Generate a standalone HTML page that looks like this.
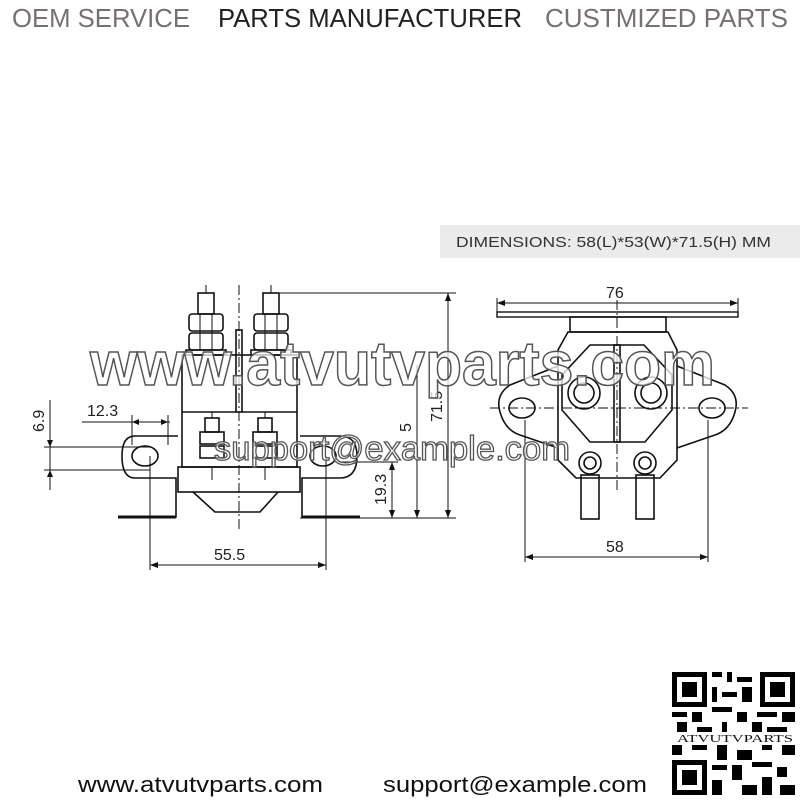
<!DOCTYPE html>
<html><head><meta charset="utf-8"><style>
html,body{margin:0;padding:0;background:#fff;}
svg{display:block;}
</style></head><body>
<svg width="800" height="800" viewBox="0 0 800 800" xmlns="http://www.w3.org/2000/svg" font-family="Liberation Sans, sans-serif">
<rect width="800" height="800" fill="#fff"/>
<!-- header -->
<text x="12" y="27" font-size="26" fill="#777070" textLength="178" lengthAdjust="spacingAndGlyphs">OEM SERVICE</text>
<text x="218" y="27" font-size="26" fill="#222" textLength="304" lengthAdjust="spacingAndGlyphs">PARTS MANUFACTURER</text>
<text x="545" y="27" font-size="26" fill="#777070" textLength="243" lengthAdjust="spacingAndGlyphs">CUSTMIZED PARTS</text>
<!-- dims box -->
<rect x="440" y="225" width="360" height="33" fill="#ebebeb"/>
<text x="456" y="247" font-size="15" fill="#333" textLength="315" lengthAdjust="spacingAndGlyphs">DIMENSIONS: 58(L)*53(W)*71.5(H) MM</text>

<g fill="none" stroke="#111" stroke-width="1.6">
<g id="stud">
<line x1="206" y1="285" x2="206" y2="293" stroke-width="1"/>
<rect x="198" y="293" width="16" height="21"/>
<rect x="189" y="314" width="34" height="17" rx="3"/>
<rect x="189" y="333" width="34" height="17" rx="3"/>
<rect x="186" y="350" width="40" height="5"/>
<line x1="200" y1="314" x2="200" y2="350" stroke-width="1"/>
<line x1="212" y1="314" x2="212" y2="350" stroke-width="1"/>
</g>
<use href="#stud" transform="translate(65,0)"/>
<rect x="236" y="330" width="6" height="82"/>
<rect x="182" y="355" width="115" height="112"/>
<line x1="182" y1="412" x2="236" y2="412"/>
<line x1="242" y1="412" x2="297" y2="412"/>
<g id="ss">
<line x1="212" y1="412" x2="212" y2="418" stroke-width="1"/>
<rect x="205" y="418" width="14" height="14"/>
<rect x="200" y="432" width="24" height="12"/>
<rect x="200" y="446" width="24" height="12"/>
<line x1="212" y1="467" x2="212" y2="480" stroke-width="1"/>
</g>
<use href="#ss" transform="translate(53,0)"/>
<rect x="178" y="467" width="122" height="25"/>
<path d="M193 492 L215 512 L260 512 L278 492"/>
<line x1="239" y1="285" x2="239" y2="530" stroke-width="1" stroke-dasharray="10,3,2,3"/>
<path d="M178 436 L135 436 Q122 436 122 456 Q122 478 135 478 L176 478 L176 517 L120 517"/>
<line x1="118" y1="517" x2="176" y2="517" stroke-width="3"/>
<ellipse cx="145" cy="456" rx="13" ry="10"/>
<path d="M300 436 L340 436 Q357 436 357 456 Q357 478 340 478 L302 478 L302 517 L358 517"/>
<line x1="302" y1="517" x2="360" y2="517" stroke-width="3"/>
<ellipse cx="323" cy="456" rx="13" ry="10"/>
</g>

<g stroke="#111" stroke-width="1" fill="none">
<line x1="280" y1="293" x2="456" y2="293"/>
<line x1="300" y1="518" x2="456" y2="518"/>
<line x1="448" y1="293" x2="448" y2="518"/>
<line x1="417" y1="365" x2="417" y2="518"/>
<line x1="392" y1="462" x2="392" y2="518"/>
<line x1="340" y1="462" x2="398" y2="462"/>
<line x1="50" y1="400" x2="50" y2="490"/>
<line x1="44" y1="447" x2="150" y2="447"/>
<line x1="44" y1="470" x2="150" y2="470"/>
<line x1="82" y1="422" x2="170" y2="422"/>
<line x1="132" y1="415" x2="132" y2="445"/>
<line x1="168" y1="415" x2="168" y2="445"/>
<line x1="150" y1="456" x2="150" y2="570"/>
<line x1="326" y1="456" x2="326" y2="570"/>
<line x1="150" y1="565" x2="326" y2="565"/>
</g>
<g fill="#111">
<path d="M448 293 l-3 8 h6z M448 518 l-3 -8 h6z M417 518 l-3 -8 h6z M392 462 l-3 8 h6z M392 518 l-3 -8 h6z M50 447 l-3 -7 h6z M50 470 l-3 7 h6z M132 422 l7 -3 v6z M168 422 l-7 -3 v6z M150 565 l8 -3 v6z M326 565 l-8 -3 v6z"/>
</g>
<g font-size="16" fill="#222">
<text x="87" y="416">12.3</text>
<text x="214" y="560">55.5</text>
<text transform="translate(44,432) rotate(-90)">6.9</text>
<text transform="translate(442,422) rotate(-90)">71.5</text>
<text transform="translate(411,432) rotate(-90)">5</text>
<text transform="translate(386,505) rotate(-90)">19.3</text>
<text x="606" y="298">76</text>
<text x="606" y="552">58</text>
</g>

<g fill="none" stroke="#111" stroke-width="1.6">
<rect x="497" y="312" width="241" height="5" stroke-width="1.4"/>
<rect x="570" y="317" width="96" height="15"/>
<path d="M568 332 L668 332 L677 350 L677 460 L660 478 L576 478 L558 460 L558 350 Z"/>
<path d="M558 366 L510 385 Q495 395 500 412 Q505 430 520 435 L558 448"/>
<path d="M677 366 L725 385 Q740 395 735 412 Q730 430 715 435 L677 448"/>
<ellipse cx="522" cy="408" rx="13" ry="10"/>
<ellipse cx="712" cy="408" rx="13" ry="10"/>
<path d="M590 345 L644 345 L672 375 L672 410 L645 442 L590 442 L562 410 L562 375 Z"/>
<rect x="614" y="345" width="6" height="97"/>
<circle cx="584" cy="393" r="16"/>
<circle cx="584" cy="393" r="10"/>
<circle cx="651" cy="393" r="16"/>
<circle cx="651" cy="393" r="10"/>
<circle cx="590" cy="463" r="11"/>
<circle cx="590" cy="463" r="6"/>
<circle cx="645" cy="463" r="11"/>
<circle cx="645" cy="463" r="6"/>
<rect x="581" y="475" width="18" height="44"/>
<rect x="636" y="475" width="18" height="44"/>
</g>
<g stroke="#111" stroke-width="1" fill="none">
<line x1="617" y1="300" x2="617" y2="490" stroke-dasharray="10,3,2,3"/>
<line x1="490" y1="408" x2="748" y2="408" stroke-dasharray="10,3,2,3"/>
<line x1="497" y1="298" x2="497" y2="312"/>
<line x1="738" y1="298" x2="738" y2="312"/>
<line x1="497" y1="303" x2="738" y2="303"/>
<line x1="525" y1="420" x2="525" y2="562"/>
<line x1="708" y1="420" x2="708" y2="562"/>
<line x1="525" y1="557" x2="708" y2="557"/>
</g>
<path fill="#111" d="M497 303 l8 -3 v6z M738 303 l-8 -3 v6z M525 557 l8 -3 v6z M708 557 l-8 -3 v6z"/>

<text x="90" y="385" font-size="62" font-weight="bold" fill="#fff" fill-opacity="0.75" stroke="#555" stroke-width="1.5" textLength="625" lengthAdjust="spacingAndGlyphs">www.atvutvparts.com</text>
<text x="214" y="460" font-size="34" fill="#fff" fill-opacity="0.6" stroke="#555" stroke-width="1.3" textLength="356" lengthAdjust="spacingAndGlyphs">support@example.com</text>

<text x="78" y="792" font-size="22" fill="#111" textLength="245" lengthAdjust="spacingAndGlyphs">www.atvutvparts.com</text>
<text x="383" y="792" font-size="22" fill="#111" textLength="264" lengthAdjust="spacingAndGlyphs">support@example.com</text>

<g fill="#000">
<path d="M672 672h35v35h-35z M677 677v25h25v-25z M682 682h15v15h-15z"/>
<path d="M760 672h35v35h-35z M765 677v25h25v-25z M770 682h15v15h-15z"/>
<path d="M672 760h35v35h-35z M677 765v25h25v-25z M682 770h15v15h-15z"/>
<rect x="712" y="672" width="10" height="5"/><rect x="727" y="672" width="5" height="10"/><rect x="737" y="677" width="15" height="5"/>
<rect x="712" y="687" width="5" height="15"/><rect x="722" y="692" width="15" height="5"/><rect x="742" y="687" width="10" height="15"/>
<rect x="672" y="712" width="15" height="5"/><rect x="692" y="712" width="10" height="10"/><rect x="712" y="707" width="20" height="5"/>
<rect x="737" y="712" width="10" height="10"/><rect x="757" y="712" width="20" height="5"/><rect x="782" y="712" width="13" height="10"/>
<rect x="677" y="722" width="10" height="10"/><rect x="697" y="727" width="15" height="5"/><rect x="722" y="722" width="5" height="10"/>
<rect x="752" y="722" width="10" height="10"/><rect x="767" y="727" width="20" height="5"/>
<rect x="672" y="745" width="10" height="10"/><rect x="692" y="745" width="15" height="5"/><rect x="717" y="745" width="10" height="15"/>
<rect x="737" y="750" width="15" height="10"/><rect x="762" y="745" width="10" height="5"/><rect x="782" y="745" width="13" height="10"/>
<rect x="712" y="765" width="15" height="5"/><rect x="732" y="765" width="10" height="15"/><rect x="752" y="762" width="20" height="5"/>
<rect x="777" y="767" width="10" height="10"/><rect x="712" y="780" width="10" height="15"/><rect x="742" y="785" width="15" height="10"/>
<rect x="762" y="777" width="10" height="18"/><rect x="780" y="785" width="15" height="10"/>
</g>
<rect x="675" y="733" width="120" height="10" fill="#fff"/>
<text x="677" y="742" font-size="10" font-family="Liberation Serif, serif" fill="#111" textLength="116" lengthAdjust="spacingAndGlyphs">ATVUTVPARTS</text>
</svg>
</body></html>
